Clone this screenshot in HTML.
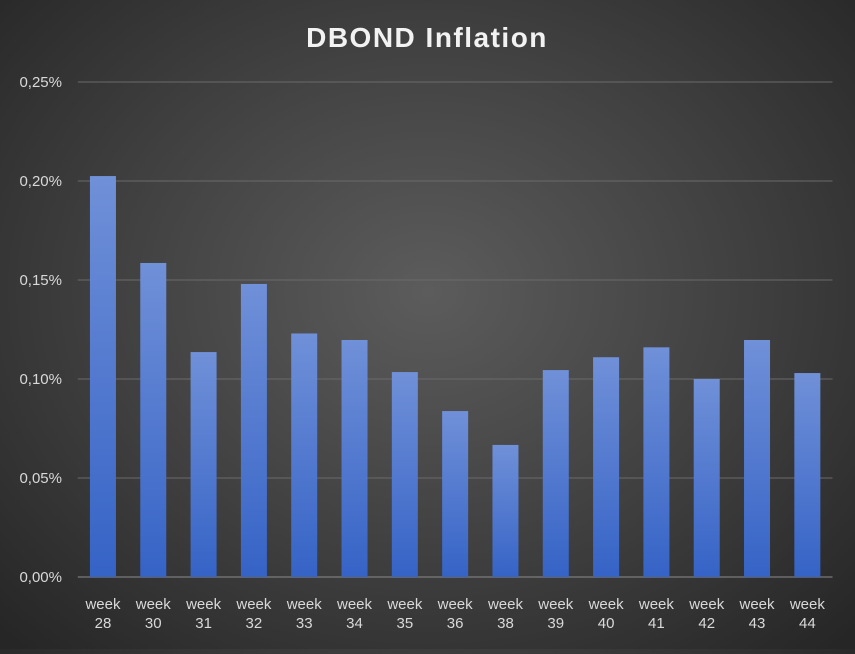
<!DOCTYPE html>
<html><head><meta charset="utf-8"><style>
html,body{margin:0;padding:0;}
body{width:855px;height:649px;overflow:hidden;background:radial-gradient(ellipse 70% 75% at 50% 45%,#5c5c5c 0%,#3f3f3f 55%,#262626 100%);font-family:"Liberation Sans",sans-serif;}
</style></head><body>
<svg id="chart" width="855" height="649" xmlns="http://www.w3.org/2000/svg">
<defs><linearGradient id="bg" x1="0" y1="0" x2="0" y2="1"><stop offset="0" stop-color="#7090d8"/><stop offset="1" stop-color="#3563c6"/></linearGradient></defs>
<text x="427" y="47" text-anchor="middle" fill="#f2f2f2" font-size="28" font-weight="bold" letter-spacing="1.5">DBOND Inflation</text>
<g id="grid"></g><g id="bars"></g><g id="xl"></g><g id="yl"></g>
</svg>
<script>
const categories=["28","30","31","32","33","34","35","36","38","39","40","41","42","43","44"];
const values=[0.2025,0.1586,0.1136,0.148,0.123,0.1197,0.1035,0.0838,0.0667,0.1045,0.111,0.116,0.100,0.1197,0.103];
const yTicks=[0,0.05,0.10,0.15,0.20,0.25];
const yTickLabels=["0,00%","0,05%","0,10%","0,15%","0,20%","0,25%"];
const NS="http://www.w3.org/2000/svg";
const L=77.8,R=832.5,Y0=577,Y1=82,YMAX=0.25;
const y=v=>Y0-(v/YMAX)*(Y0-Y1);
const bw=(R-L)/categories.length;
const x=i=>L+bw*(i+0.5);
function mk(t,a,p){const e=document.createElementNS(NS,t);for(const k in a)e.setAttribute(k,a[k]);p.appendChild(e);return e;}
const g=document.getElementById('grid'),b=document.getElementById('bars'),xl=document.getElementById('xl'),yl=document.getElementById('yl');
yTicks.forEach((t,i)=>{
const ln=mk('line',{x1:L,x2:R,y1:y(t),y2:y(t),stroke:i==0?'#8c8c8c':'#6a6a6a','stroke-width':1},g);


const tx=mk('text',{x:62,y:y(t)+5,'text-anchor':'end',fill:'#d9d9d9','font-size':15},yl);
tx.textContent=yTickLabels[i];


});
categories.forEach((c,i)=>{
const r=mk('rect',{x:x(i)-13,y:y(values[i]),width:26,height:Y0-y(values[i]),fill:'url(#bg)'},b);


const t1=mk('text',{x:x(i),y:609,'text-anchor':'middle',fill:'#d9d9d9','font-size':15},xl);
t1.textContent='week';


const t2=mk('text',{x:x(i),y:628,'text-anchor':'middle',fill:'#d9d9d9','font-size':15},xl);
t2.textContent=c;


});
</script>
</body></html>
